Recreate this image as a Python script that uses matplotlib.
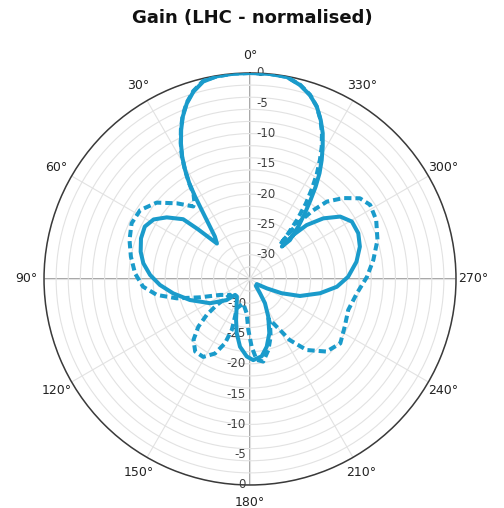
import matplotlib
matplotlib.use("Agg")
import matplotlib.pyplot as plt
import matplotlib.transforms as mtransforms
import numpy as np

title = "Gain (LHC - normalised)"

# Solid series: angle (deg, CCW from top) and normalised gain (dB)
solid_angle = [0, 4.6, 9.3, 13.3, 16.8, 19.8, 22.5, 24.8, 27, 29, 30.8, 32.4, 33.7, 35, 36.8, 39.6, 43,
               46.3, 48.2, 53.5, 58.3, 63.5, 69.6, 76, 81.6, 87.7, 93.8, 100.6, 109.3, 121.3, 132, 136.8,
               143, 154.3, 161.1, 166.2, 171.6, 177.6, 182.3, 188.6, 193.9, 199.6, 205.9, 211.7, 215, 220.6,
               233, 240.9, 245.7, 251.2, 258.5, 264.9, 271.3, 279.2, 286.4, 292.9, 299.4, 304.7, 309.6,
               313.6, 315.5, 315.5, 314.3, 317.3, 320.1, 322.5, 324.6, 326.7, 328.9, 331.2, 333.5, 336,
               338.8, 341.9, 345.5, 349.7, 354.5, 360]
solid_gain = [0.0, 0.0, -0.1, -0.5, -1.7, -3.2, -5.0, -6.9, -8.9, -10.9, -13.1, -15.3, -17.7, -20.1, -22.5, -24.9, -26.0,
              -22.1, -19.2, -16.9, -15.3, -14.6, -14.8, -15.4, -16.2, -17.5, -19.1, -21.1, -23.5, -26.3, -28.8, -30.4,
              -30.4, -28.9, -26.9, -24.8, -22.7, -21.2, -20.6, -21.1, -22.5, -24.5, -27.1, -29.3, -31.1, -32.5,
              -32.6, -30.8, -28.3, -25.3, -22.2, -19.6, -17.8, -16.2, -15.1, -14.6, -14.7, -15.9, -18.3,
              -21.1, -23.8, -26.5, -24.8, -22.3, -19.9, -17.6, -15.3, -13.1, -11.1, -9.1, -7.1, -5.3,
              -3.5, -2.1, -0.95, -0.1, 0.0, 0.0]

# Dashed series
dashed_angle = [0, 4.6, 9.3, 13.3, 16.8, 19.8, 22.5, 24.8, 27, 29, 30.8, 32.4, 33.7, 36, 38,
                44.1, 50.7, 57.9, 64.8, 72.1, 79.4, 87.2, 94.1, 99.7, 104.8, 110.1, 118, 128.7,
                128, 129.7, 132.7, 137.1, 142.9, 149, 154.8, 158.7, 160.3, 158.3, 155.6,
                164.6, 174.5, 178.1, 181.4, 184.7, 189.1, 194.5, 199.7, 204.3, 205,
                210.5, 213, 218.6, 226.5, 234.5, 243.3, 252.5, 262.4, 271, 278.8, 287, 295.1,
                301.7, 306.3, 310.9, 315.2, 317.5, 319.5, 319.3, 318.6,
                320, 321.5, 323.5, 325.5, 327.5, 329.5, 331.5, 333.8, 336.2, 339, 342, 345.5,
                349.7, 354.5, 360]
dashed_gain = [0.0, 0.0, -0.1, -0.4, -1.6, -3.1, -4.9, -6.8, -8.8, -10.8, -13.0, -15.2, -17.2, -18.4, -18.8,
               -16.6, -14.1, -12.6, -12.4, -13.1, -14.0, -15.0, -16.3, -18.4, -21.5, -25.2, -28.4, -29.8,
               -27.0, -24.7, -22.4, -20.3, -19.0, -19.0, -20.4, -22.6, -25.1, -27.3, -28.7,
               -29.8, -28.3, -25.6, -22.8, -20.6, -20.2, -21.9, -23.9, -26.0, -26.8,
               -24.2, -22.0, -19.0, -16.6, -15.7, -16.5, -17.0, -16.2, -14.7, -13.4, -12.0, -11.0,
               -10.7, -11.5, -13.6, -16.0, -18.7, -22.0, -25.1, -26.5,
               -24.2, -21.5, -18.5, -16.0, -13.5, -11.3, -9.2, -7.1, -5.2, -3.4, -2.0, -0.9,
               -0.1, 0.0, 0.0]

angle_ticks = [0, 30, 60, 90, 120, 150, 180, 210, 240, 270, 300, 330]
angle_labels = [f"{a}\u00b0" for a in angle_ticks]
radial_labels = [0, -5, -10, -15, -20, -25, -30]
r_min, r_max = -34, 0

line_color = "#1a9bcb"

fig = plt.figure(figsize=(5.04, 5.08), dpi=100)
ax = fig.add_axes([0.0873, 0.0453, 0.8175, 0.811], projection="polar")
ax.set_theta_zero_location("N")
ax.set_theta_direction(1)
ax.set_ylim(r_min, r_max)
ax.set_yticks(np.arange(r_min, r_max + 0.1, 2))
ax.set_yticklabels([])
ax.set_xticks(np.deg2rad(angle_ticks))
ax.set_xticklabels(angle_labels, fontsize=9, color="#222222")
ax.tick_params(axis="x", pad=2)
ax.grid(color="#e2e2e2", lw=0.8)
ax.spines["polar"].set_color("#3a3a3a")
ax.spines["polar"].set_linewidth(1.1)

# darker axis lines through centre
for t in [0, 90, 180, 270]:
    ax.plot([np.deg2rad(t)] * 2, [r_min, r_max], color="#8c8c8c", lw=1.1, zorder=1.5)

# radial value labels
top_tr = mtransforms.offset_copy(ax.transData, fig=fig, x=6, y=0, units="dots")
bot_tr = mtransforms.offset_copy(ax.transData, fig=fig, x=-4, y=0, units="dots")
for v in radial_labels:
    ax.text(0, v, str(v), transform=top_tr, ha="left", va="center",
            fontsize=8.5, color="#404040", zorder=1.8)
    ax.text(np.pi, v, str(v), transform=bot_tr, ha="right", va="center",
            fontsize=8.5, color="#404040", zorder=1.8)

ax.plot(np.deg2rad(solid_angle), solid_gain, color=line_color, lw=2.9,
        solid_joinstyle="round", zorder=3)
ax.plot(np.deg2rad(dashed_angle), dashed_gain, color=line_color, lw=2.9,
        linestyle=(0, (1.8, 1.0)), zorder=3)

fig.text(0.5, 1 - 18 / 508, title, ha="center", va="center",
         fontsize=13, fontweight="bold", color="#111111")

fig.savefig("out.png", dpi=100)
